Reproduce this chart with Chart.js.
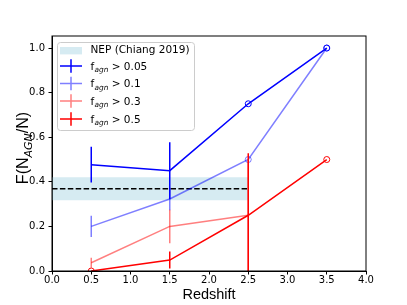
<!DOCTYPE html>
<html>
<head>
<meta charset="utf-8">
<script src="https://cdn.jsdelivr.net/npm/chart.js@4"></script>
<style>
  html, body { margin: 0; padding: 0; background: #fff; }
  #wrap { width: 407px; height: 305px; }
</style>
</head>
<body>
<div id="wrap"><canvas id="agnChart" width="407" height="305"></canvas></div>
<script>
// ==================== データ ====================
const redshift = [0.5, 1.5, 2.5, 3.5];

// f_agn > 0.05
const frac005 = [0.477, 0.45, 0.75, 1.0];
const err005 = [0.08, 0.127, null, null];
// f_agn > 0.1
const frac01 = [0.2, 0.323, 0.5, 1.0];
const err01 = [0.048, 0.05, null, null];
// f_agn > 0.3
const frac03 = [0.037, 0.2, 0.25, null];
const err03 = [0.022, 0.075, 0.25, null];
// f_agn > 0.5
const frac05 = [0.0, 0.049, 0.25, 0.5];
const err05 = [null, 0.038, 0.278, null];

// NEP (Chiang 2019)
const nepX = [0, 2.5];
const nepMean = 0.369;
const nepLow = 0.317;
const nepHigh = 0.42;

const xTicks = [0, 0.5, 1, 1.5, 2, 2.5, 3, 3.5, 4];
const yTicks = [0, 0.2, 0.4, 0.6, 0.8, 1.0];

const seriesLabels = ['> 0.05', '> 0.1', '> 0.3', '> 0.5'];

// 色設定
const colors = {
  blue: '#0000ff',
  lightBlue: 'rgba(0,0,255,0.5)',
  pink: 'rgba(255,0,0,0.5)',
  red: '#ff0000',
  band: 'rgba(173,216,230,0.5)'
};

function toPoints(ys) {
  return redshift.map((x, i) => ({ x: x, y: ys[i] }));
}

// 誤差のない点は白抜き丸
function series(label, ys, errs, color, order) {
  return {
    label: label,
    data: toPoints(ys),
    errors: errs,
    borderColor: color,
    borderWidth: 1.5,
    pointStyle: 'circle',
    pointRadius: ctx => (errs[ctx.dataIndex] == null ? 3 : 0),
    pointBorderWidth: 1,
    pointBorderColor: color,
    pointBackgroundColor: 'rgba(0,0,0,0)',
    spanGaps: false,
    fill: false,
    tension: 0,
    order: order
  };
}

// ==================== プラグイン ====================
const errorBarPlugin = {
  id: 'errorBars',
  afterDatasetDraw(chart, args) {
    const ds = chart.data.datasets[args.index];
    if (!ds.errors) return;
    const { ctx, chartArea } = chart;
    const xs = chart.scales.x, ys = chart.scales.y;
    ctx.save();
    ctx.beginPath();
    ctx.rect(chartArea.left, chartArea.top, chartArea.right - chartArea.left, chartArea.bottom - chartArea.top);
    ctx.clip();
    ctx.strokeStyle = ds.borderColor;
    ctx.lineWidth = 1.5;
    ds.data.forEach((p, i) => {
      const e = ds.errors[i];
      if (e == null || p.y == null) return;
      const px = xs.getPixelForValue(p.x);
      ctx.beginPath();
      ctx.moveTo(px, ys.getPixelForValue(p.y - e));
      ctx.lineTo(px, ys.getPixelForValue(p.y + e));
      ctx.stroke();
    });
    ctx.restore();
  }
};

const decorPlugin = {
  id: 'decor',
  afterDraw(chart) {
    const { ctx, chartArea } = chart;
    ctx.save();

    // 枠線
    ctx.strokeStyle = '#000';
    ctx.lineWidth = 1;
    ctx.strokeRect(chartArea.left, chartArea.top, chartArea.right - chartArea.left, chartArea.bottom - chartArea.top);

    // 凡例
    const lx = 57, ly = 42, lw = 137, lh = 88;
    ctx.fillStyle = 'rgba(255,255,255,0.8)';
    ctx.strokeStyle = '#cccccc';
    ctx.lineWidth = 1;
    ctx.beginPath();
    ctx.roundRect(lx + 0.5, ly + 0.5, lw, lh, 3);
    ctx.fill();
    ctx.stroke();

    const rows = [50.7, 66, 83.5, 101, 119];
    const handleL = 60, handleR = 82, textX = 90.5;
    ctx.fillStyle = colors.band;
    ctx.fillRect(handleL, rows[0] - 3.7, handleR - handleL, 7.4);
    ctx.fillStyle = '#000';
    ctx.font = '10.5px "DejaVu Sans"';
    ctx.textBaseline = 'middle';
    ctx.textAlign = 'left';
    ctx.fillText('NEP (Chiang 2019)', textX, rows[0]);

    const lineColors = [colors.blue, colors.lightBlue, colors.pink, colors.red];
    seriesLabels.forEach((lab, i) => {
      const y = rows[i + 1];
      ctx.strokeStyle = lineColors[i];
      ctx.lineWidth = 1.5;
      ctx.beginPath();
      ctx.moveTo(handleL, y);
      ctx.lineTo(handleR, y);
      ctx.moveTo((handleL + handleR) / 2, y - 6.7);
      ctx.lineTo((handleL + handleR) / 2, y + 6.7);
      ctx.stroke();

      ctx.fillStyle = '#000';
      ctx.textBaseline = 'alphabetic';
      const base = y + 3.8;
      let x = textX;
      ctx.font = '10.5px "DejaVu Sans"';
      ctx.fillText('f', x, base);
      x += ctx.measureText('f').width + 0.3;
      ctx.font = 'italic 7.4px "DejaVu Sans"';
      ctx.fillText('agn', x, base + 2.2);
      x += ctx.measureText('agn').width;
      ctx.font = '10.5px "DejaVu Sans"';
      ctx.fillText(' ' + lab, x, base);
    });

    // 軸タイトル
    ctx.fillStyle = '#000';
    ctx.textBaseline = 'alphabetic';
    ctx.textAlign = 'center';
    ctx.font = '14.5px "Liberation Sans"';
    ctx.fillText('Redshift', (chartArea.left + chartArea.right) / 2, 299);

    ctx.translate(28, 148);
    ctx.rotate(-Math.PI / 2);
    ctx.textAlign = 'left';
    const mainFont = '16px "Liberation Sans"';
    const subFont = 'italic 11px "DejaVu Sans"';
    ctx.font = mainFont;
    const w1 = ctx.measureText('F(N').width;
    const w3 = ctx.measureText('/N)').width;
    ctx.font = subFont;
    const w2 = ctx.measureText('AGN').width;
    let sx = -(w1 + w2 + w3) / 2;
    ctx.font = mainFont;
    ctx.fillText('F(N', sx, 0);
    sx += w1;
    ctx.font = subFont;
    ctx.fillText('AGN', sx, 3.5);
    sx += w2;
    ctx.font = mainFont;
    ctx.fillText('/N)', sx, 0);

    ctx.restore();
  }
};

// ==================== グラフ作成 ====================
const tickFont = { family: 'DejaVu Sans', size: 10 };

new Chart(document.getElementById('agnChart').getContext('2d'), {
  type: 'line',
  data: {
    datasets: [
      {
        label: 'band top',
        data: nepX.map(x => ({ x: x, y: nepHigh })),
        borderWidth: 0,
        pointRadius: 0,
        backgroundColor: colors.band,
        fill: '+1',
        order: 10
      },
      {
        label: 'band bottom',
        data: nepX.map(x => ({ x: x, y: nepLow })),
        borderWidth: 0,
        pointRadius: 0,
        fill: false,
        order: 10
      },
      {
        label: 'NEP',
        data: nepX.map(x => ({ x: x, y: nepMean })),
        borderColor: '#000',
        borderWidth: 1.5,
        borderDash: [5.5, 2.4],
        pointRadius: 0,
        fill: false,
        order: 9
      },
      series('0.05', frac005, err005, colors.blue, 4),
      series('0.1', frac01, err01, colors.lightBlue, 3),
      series('0.3', frac03, err03, colors.pink, 2),
      series('0.5', frac05, err05, colors.red, 1)
    ]
  },
  options: {
    responsive: false,
    animation: false,
    layout: { padding: { left: 0, right: 41, top: 36, bottom: 0 } },
    plugins: {
      legend: { display: false },
      tooltip: { enabled: false },
      title: { display: false }
    },
    scales: {
      x: {
        type: 'linear',
        min: 0,
        max: 4,
        afterFit: s => { s.height = 34; },
        afterBuildTicks: s => { s.ticks = xTicks.map(v => ({ value: v })); },
        grid: { drawOnChartArea: false, drawTicks: true, tickLength: 3.5, color: '#000' },
        border: { display: true, color: '#000', width: 1 },
        ticks: {
          font: tickFont,
          color: '#000',
          padding: 0,
          maxRotation: 0,
          callback: v => v.toFixed(1)
        }
      },
      y: {
        type: 'linear',
        min: 0,
        max: 1.054,
        afterFit: s => { s.width = 52; },
        afterBuildTicks: s => { s.ticks = yTicks.map(v => ({ value: v })); },
        grid: { drawOnChartArea: false, drawTicks: true, tickLength: 3.5, color: '#000' },
        border: { display: true, color: '#000', width: 1 },
        ticks: {
          font: tickFont,
          color: '#000',
          padding: 3.5,
          callback: v => v.toFixed(1)
        }
      }
    }
  },
  plugins: [errorBarPlugin, decorPlugin]
});
</script>
</body>
</html>
